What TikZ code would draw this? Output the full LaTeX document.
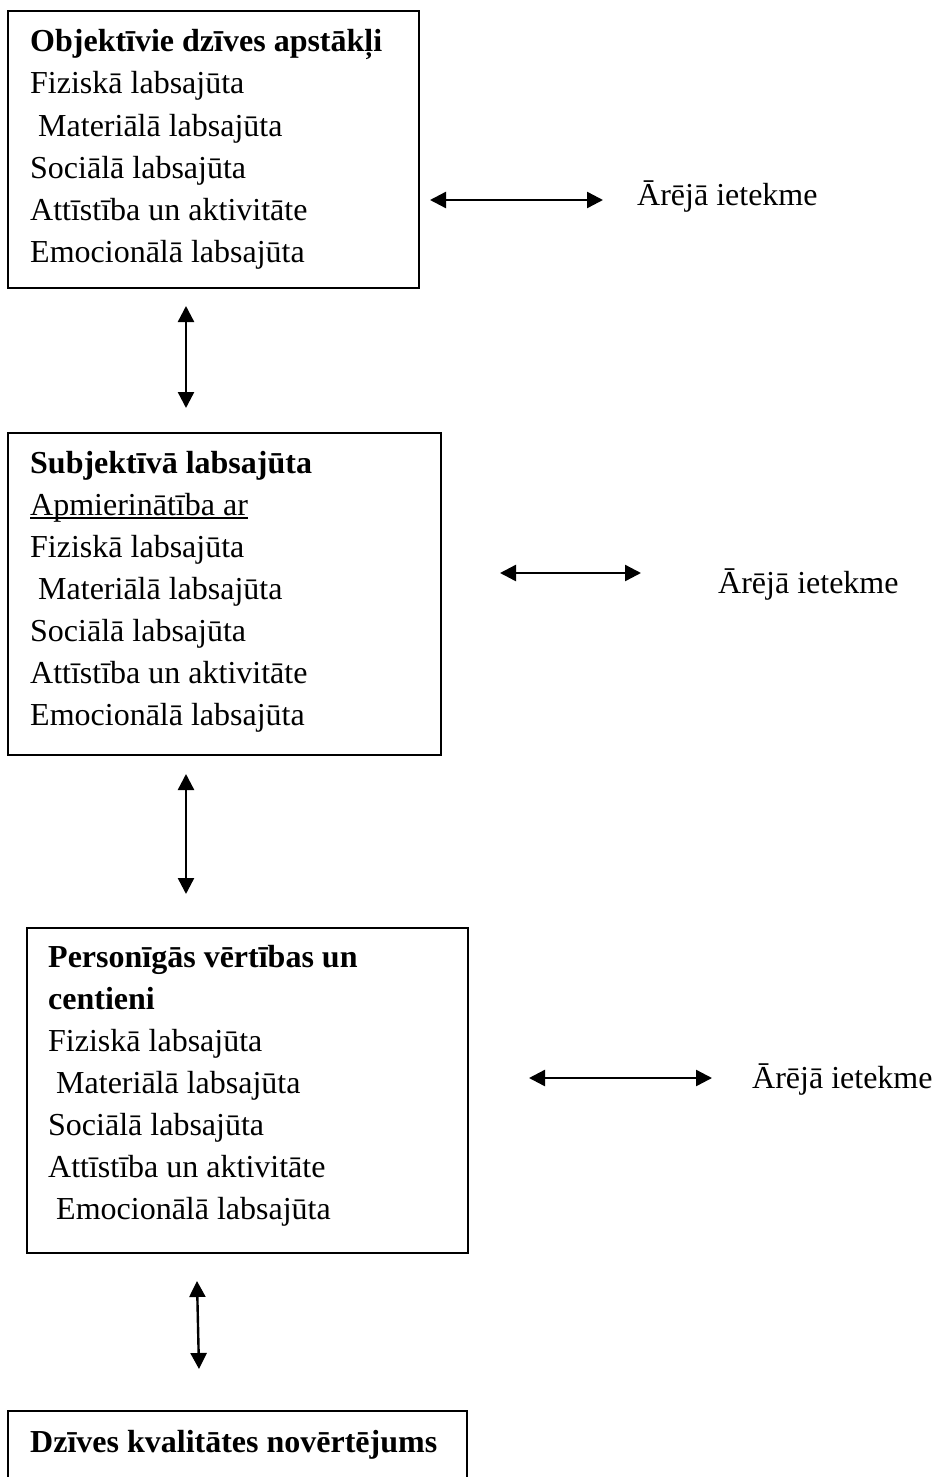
\documentclass[tikz,border=0pt]{standalone}
\usepackage{fontspec}
\setmainfont{Liberation Serif}
\usetikzlibrary{arrows.meta}
\newsavebox\ulbox
\newcommand\myul[1]{\sbox\ulbox{#1}\rlap{\rule[-3.5pt]{\wd\ulbox}{1.3pt}}\usebox\ulbox}
\begin{document}
\begin{tikzpicture}[x=1pt,y=-1pt,
  boxframe/.style={draw,line width=1.8pt},
  ln/.style={anchor=base west,inner sep=0pt,font=\fontsize{32}{42}\selectfont},
  hd/.style={ln,font=\fontsize{32}{42}\selectfont\bfseries},
  dblarrow/.style={{Triangle[length=16pt,width=16pt]}-{Triangle[length=16pt,width=16pt]},line width=2.4pt}]
\useasboundingbox (0,0) rectangle (935,1477);
% Box 1
\draw[boxframe] (8,11) rectangle (419,288);
\node[hd] (a0) at (30,52) {Objektīvie dzīves apstākļi};
\node[ln] (a1) at (30,94) {Fiziskā labsajūta};
\node[ln] (a2) at (30,136) {\ Materiālā labsajūta};
\node[ln] (a3) at (30,178) {Sociālā labsajūta};
\node[ln] (a4) at (30,220) {Attīstība un aktivitāte};
\node[ln] (a5) at (30,262) {Emocionālā labsajūta};
% Box 2
\draw[boxframe] (8,433) rectangle (441,755);
\node[hd] (b0) at (30,473) {Subjektīvā labsajūta};
\node[ln] (b1) at (30,515) {\myul{Apmierinātība ar}};
\node[ln] (b2) at (30,557) {Fiziskā labsajūta};
\node[ln] (b3) at (30,599) {\ Materiālā labsajūta};
\node[ln] (b4) at (30,641) {Sociālā labsajūta};
\node[ln] (b5) at (30,683) {Attīstība un aktivitāte};
\node[ln] (b6) at (30,725) {Emocionālā labsajūta};
% Box 3
\draw[boxframe] (27,928) rectangle (468,1253);
\node[hd] (c0) at (48,967) {Personīgās vērtības un};
\node[hd] (c1) at (48,1009) {centieni};
\node[ln] (c2) at (48,1051) {Fiziskā labsajūta};
\node[ln] (c3) at (48,1093) {\ Materiālā labsajūta};
\node[ln] (c4) at (48,1135) {Sociālā labsajūta};
\node[ln] (c5) at (48,1177) {Attīstība un aktivitāte};
\node[ln] (c6) at (48,1219) {\ Emocionālā labsajūta};
% Box 4
\draw[boxframe] (8,1490) -- (8,1411) -- (467,1411) -- (467,1490);
\node[hd] (d0) at (30,1452) {Dzīves kvalitātes novērtējums};
% external influence labels
\node[ln] (e1) at (637,205) {Ārējā ietekme};
\node[ln] (e2) at (718,593) {Ārējā ietekme};
\node[ln] (e3) at (752,1088) {Ārējā ietekme};
% arrow ends
\coordinate (h1a) at (430,200); \coordinate (h1b) at (603,200);
\coordinate (h2a) at (500,573); \coordinate (h2b) at (641,573);
\coordinate (h3a) at (529,1078); \coordinate (h3b) at (712,1078);
\coordinate (v1a) at (186,306); \coordinate (v1b) at (186,408);
\coordinate (v2a) at (186,774); \coordinate (v2b) at (186,894);
\coordinate (v3a) at (197,1281); \coordinate (v3b) at (199,1369);
\draw[dblarrow] (h1a) -- (h1b);
\draw[dblarrow] (h2a) -- (h2b);
\draw[dblarrow] (h3a) -- (h3b);
\draw[dblarrow] (v1a) -- (v1b);
\draw[dblarrow] (v2a) -- (v2b);
\draw[dblarrow] (v3a) -- (v3b);
\end{tikzpicture}
\end{document}
